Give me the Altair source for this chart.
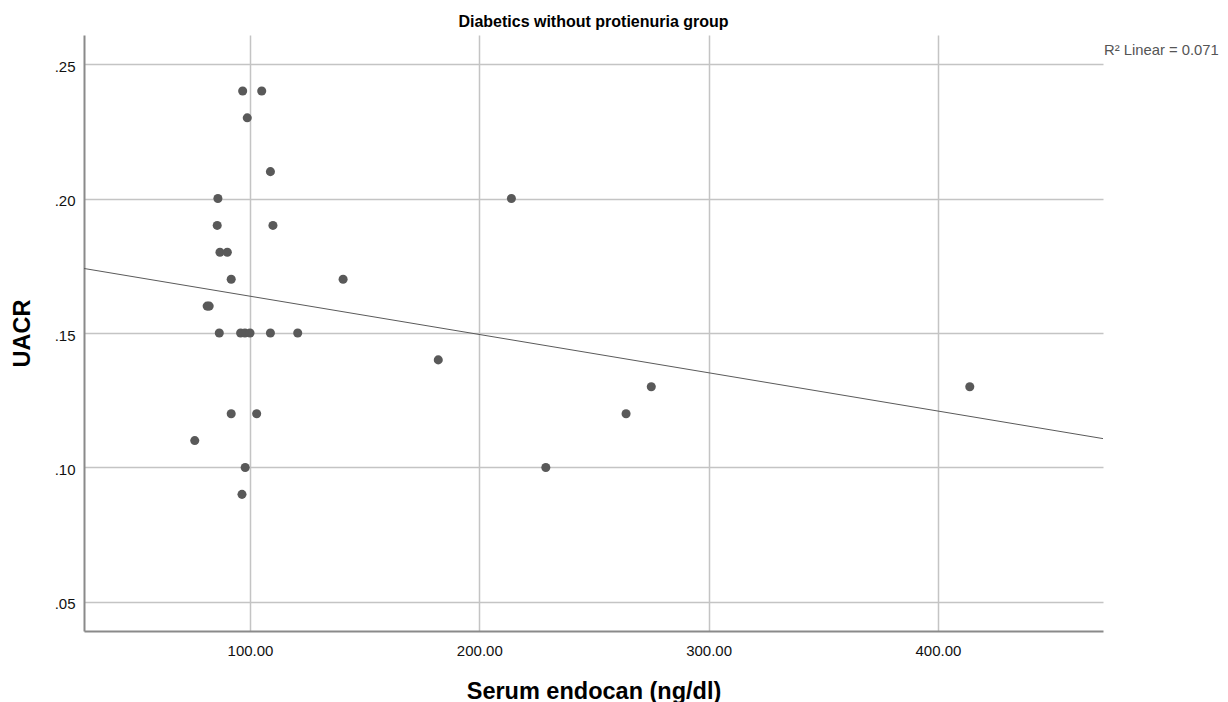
import altair as alt
import pandas as pd

# ---- data ----
endocan = [96.8, 105.1, 98.8, 108.9, 86.0, 214.0, 85.7, 110.0, 86.9, 90.1,
           91.8, 140.6, 81.3, 82.2, 86.6, 95.9, 97.8, 100.0, 108.9, 120.8,
           182.1, 275.0, 413.9, 91.8, 102.9, 264.0, 75.9, 97.9, 229.0, 96.5]
uacr = [0.24, 0.24, 0.23, 0.21, 0.20, 0.20, 0.19, 0.19, 0.18, 0.18,
        0.17, 0.17, 0.16, 0.16, 0.15, 0.15, 0.15, 0.15, 0.15, 0.15,
        0.14, 0.13, 0.13, 0.12, 0.12, 0.12, 0.11, 0.10, 0.10, 0.09]

x_ticks = [100, 200, 300, 400]
y_ticks = [0.05, 0.10, 0.15, 0.20, 0.25]
x_domain = [27.6, 472.0]
y_domain = [0.0392, 0.2608]

chart_title = "Diabetics without protienuria group"
x_title = "Serum endocan (ng/dl)"
y_title = "UACR"
r2_label = ["R\u00b2 Linear = 0.071"]
r2_pos_x = [472.0]
r2_pos_y = [0.2534]

FONT = "Liberation Sans"
W, H = 1019, 596

df = pd.DataFrame({"endocan": endocan, "uacr": uacr})
lab = pd.DataFrame({"endocan": r2_pos_x, "uacr": r2_pos_y, "label": r2_label})

xs = alt.Scale(domain=x_domain, nice=False, zero=False)
ys = alt.Scale(domain=y_domain, nice=False, zero=False)

x_axis = alt.Axis(
    values=x_ticks, format=".2f", title=x_title, grid=True, ticks=False,
    labelPadding=12, labelFontSize=15, titleFontSize=23.5, titleFontWeight="bold",
    titleX=W / 2, titleY=67, titleBaseline="alphabetic", titleAlign="center",
)
y_axis = alt.Axis(
    values=y_ticks, labelExpr="substring(format(datum.value, '.2f'), 1)",
    title=y_title, grid=True, ticks=False, labelPadding=9, labelFontSize=15,
    labelOffset=2, titleFontSize=23.5, titleFontWeight="bold", titleX=-55,
    titleY=H / 2, titleAngle=-90, titleBaseline="alphabetic", titleAlign="center",
)

base = alt.Chart(df)

points = base.mark_circle(size=82, color="#595959", opacity=1).encode(
    x=alt.X("endocan:Q", scale=xs, axis=x_axis),
    y=alt.Y("uacr:Q", scale=ys, axis=y_axis),
)

fit = base.transform_regression(
    "endocan", "uacr", extent=x_domain
).mark_line(color="#5a5a5a", strokeWidth=1).encode(
    x=alt.X("endocan:Q", scale=xs, axis=x_axis),
    y=alt.Y("uacr:Q", scale=ys, axis=y_axis),
)

r2 = alt.Chart(lab).mark_text(
    align="left", baseline="alphabetic", dx=1, fontSize=14.8,
    color="#555555", font=FONT,
).encode(
    x=alt.X("endocan:Q", scale=xs, axis=x_axis),
    y=alt.Y("uacr:Q", scale=ys, axis=y_axis),
    text="label:N",
)

chart = alt.layer(points, fit, r2).properties(
    width=W,
    height=H,
    autosize=alt.AutoSizeParams(type="none"),
    padding={"left": 76, "top": 27, "right": 117, "bottom": 71},
    title=alt.TitleParams(
        text=chart_title, fontSize=16, fontWeight="bold", font=FONT,
        anchor="middle", baseline="alphabetic", offset=-8, color="#000000",
    ),
).configure_axis(
    domainColor="#8a8a8a", domainWidth=2, gridColor="#c4c4c4", gridWidth=1.5,
    labelFont=FONT, titleFont=FONT, labelColor="#111111", titleColor="#000000",
).configure_view(stroke=None)

chart.save("out.html", embed_options={"renderer": "svg", "actions": False})
